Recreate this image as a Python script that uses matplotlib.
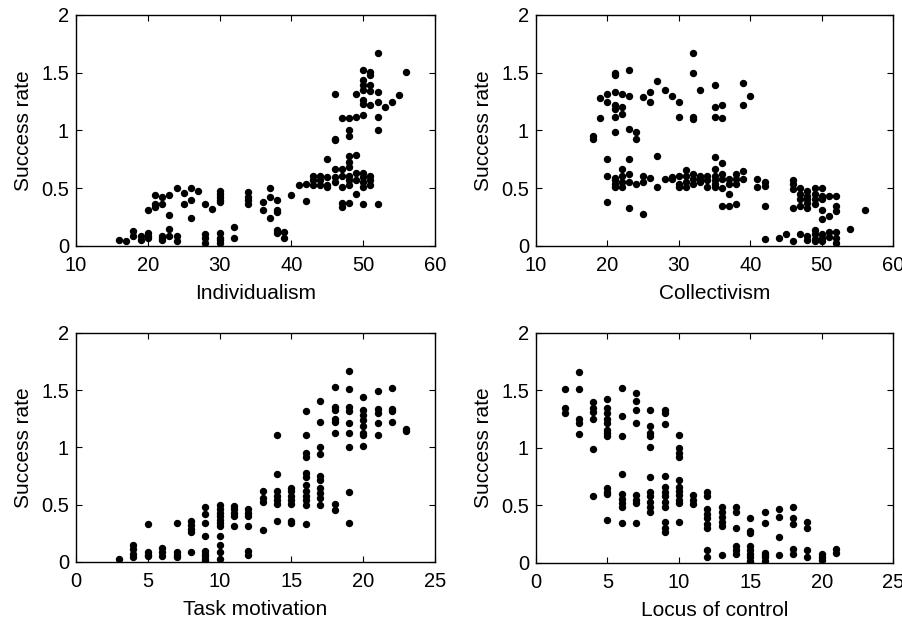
import numpy as np
import matplotlib.pyplot as plt

plt.rcParams['font.family'] = ['Liberation Sans', 'DejaVu Sans']

# Individualism vs success rate
indiv_x = [16, 17, 18, 18, 19, 19, 20, 20, 20, 20, 21, 21, 21,
           22, 22, 22, 22, 22, 23, 23, 23, 23, 24, 24, 24, 25, 25,
           26, 26, 26, 27, 28, 28, 28, 28, 29,
           30, 30, 30, 30, 30, 30, 30, 30, 30, 32, 32,
           34, 34, 34, 34, 36, 36, 37, 37, 37, 38, 38, 38, 38, 38, 39, 39,
           40, 41, 42, 42, 43, 43, 43, 44, 44, 44, 45, 45, 45, 45,
           46, 46, 46, 46, 46, 46, 47, 47, 47, 47, 47, 47,
           48, 48, 48, 48, 48, 48, 48, 48, 48, 48,
           49, 49, 49, 49, 49, 49,
           50, 50, 50, 50, 50, 50, 50, 50, 50, 50, 50, 50,
           51, 51, 51, 51, 51, 51, 51, 51,
           52, 52, 52, 52, 52, 52, 53, 54, 55, 56]
indiv_y = [0.05, 0.04, 0.13, 0.09, 0.09, 0.05, 0.11, 0.09, 0.07, 0.31, 0.44, 0.36, 0.34,
           0.42, 0.36, 0.09, 0.07, 0.05, 0.44, 0.27, 0.15, 0.09, 0.50, 0.09, 0.04, 0.46, 0.36,
           0.50, 0.40, 0.24, 0.48, 0.36, 0.10, 0.07, 0.03, 0.32,
           0.48, 0.45, 0.42, 0.40, 0.38, 0.11, 0.07, 0.05, 0.03, 0.16, 0.07,
           0.47, 0.42, 0.40, 0.36, 0.38, 0.31, 0.50, 0.42, 0.24, 0.40, 0.31, 0.29, 0.14, 0.11, 0.12, 0.07,
           0.44, 0.53, 0.39, 0.54, 0.61, 0.57, 0.53, 0.61, 0.57, 0.53, 0.75, 0.60, 0.53, 0.51,
           1.32, 0.93, 0.92, 0.67, 0.60, 0.55, 1.11, 0.67, 0.61, 0.51, 0.37, 0.34,
           1.11, 1.00, 0.95, 0.78, 0.73, 0.68, 0.61, 0.57, 0.53, 0.37,
           1.32, 1.12, 0.79, 0.63, 0.57, 0.45,
           1.52, 1.44, 1.39, 1.35, 1.26, 1.23, 1.13, 0.63, 0.60, 0.55, 0.51, 0.36,
           1.51, 1.48, 1.39, 1.34, 1.22, 0.61, 0.57, 0.53,
           1.67, 1.33, 1.25, 1.12, 1.00, 0.36, 1.20, 1.25, 1.31, 1.51]

# Collectivism vs success rate
coll_x = [18, 18, 19, 19, 20, 20, 20, 20, 20,
          21, 21, 21, 21, 21, 21, 21, 21, 21, 21, 21,
          22, 22, 22, 22, 22, 22, 22, 23, 23, 23, 23, 23, 23, 23,
          24, 24, 24, 25, 25, 25, 25, 26, 26, 26, 27, 27, 27, 28, 28,
          29, 29, 29, 30, 30, 30, 30, 30, 31, 31, 31, 31,
          32, 32, 32, 32, 32, 32, 32, 33, 33, 33, 33, 34, 34, 34,
          35, 35, 35, 35, 35, 35, 35, 35, 35, 36, 36, 36, 36, 36, 36, 36,
          37, 37, 37, 37, 38, 38, 38, 38, 39, 39, 39, 39, 40, 41, 41,
          42, 42, 42, 42, 44, 45, 46, 46, 46, 46, 46, 47, 47, 47, 47, 47,
          48, 48, 48, 48, 48, 48, 48, 49, 49, 49, 49, 49, 49, 49, 49,
          50, 50, 50, 50, 50, 50, 50, 50, 51, 51, 51, 51,
          52, 52, 52, 52, 52, 52, 54, 56]
coll_y = [0.95, 0.93, 1.28, 1.11, 1.32, 1.25, 0.75, 0.61, 0.38,
          1.50, 1.48, 1.33, 1.22, 1.19, 1.12, 0.99, 0.59, 0.57, 0.54, 0.51,
          1.32, 1.20, 1.14, 0.67, 0.61, 0.55, 0.51, 1.52, 1.30, 1.01, 0.75, 0.62, 0.55, 0.33,
          0.99, 0.93, 0.54, 1.29, 0.61, 0.55, 0.28, 1.33, 1.25, 0.59, 1.43, 0.78, 0.51, 1.35, 0.58,
          1.30, 0.60, 0.58, 1.25, 1.12, 0.61, 0.54, 0.51, 0.66, 0.61, 0.55, 0.51,
          1.67, 1.50, 1.12, 1.10, 0.62, 0.58, 0.54, 1.35, 0.61, 0.58, 0.55, 0.61, 0.57, 0.51,
          1.39, 1.20, 1.12, 0.77, 0.67, 0.61, 0.57, 0.54, 0.51, 1.22, 1.11, 0.72, 0.62, 0.58, 0.50, 0.35,
          0.58, 0.54, 0.45, 0.35, 0.62, 0.58, 0.54, 0.36, 1.41, 1.22, 0.65, 0.58, 1.30, 0.58, 0.51,
          0.55, 0.52, 0.35, 0.06, 0.07, 0.10, 0.57, 0.54, 0.49, 0.33, 0.04, 0.50, 0.45, 0.41, 0.35, 0.10,
          0.48, 0.43, 0.41, 0.37, 0.33, 0.09, 0.05, 0.50, 0.45, 0.41, 0.36, 0.14, 0.10, 0.06, 0.04,
          0.50, 0.43, 0.41, 0.31, 0.23, 0.10, 0.07, 0.04, 0.43, 0.26, 0.12, 0.08,
          0.43, 0.35, 0.30, 0.12, 0.07, 0.03, 0.15, 0.31]

# Task motivation vs success rate
task_x = [3, 4, 4, 4, 4, 5, 5, 5, 5, 6, 6, 6, 7, 7, 7, 7,
          8, 8, 8, 8, 8, 9, 9, 9, 9, 9, 9, 9, 9, 9,
          10, 10, 10, 10, 10, 10, 10, 10, 10, 10, 10,
          11, 11, 11, 11, 11, 12, 12, 12, 12, 12, 12, 13, 13, 13, 13,
          14, 14, 14, 14, 14, 14, 14, 15, 15, 15, 15, 15, 15, 15,
          16, 16, 16, 16, 16, 16, 16, 16, 16, 16, 16, 16,
          17, 17, 17, 17, 17, 17, 17, 17, 17, 17,
          18, 18, 18, 18, 18, 18, 18, 18,
          19, 19, 19, 19, 19, 19, 19, 19, 19,
          20, 20, 20, 20, 20, 20, 20, 20, 21, 21, 21, 21, 21,
          22, 22, 22, 22, 23, 23]
task_y = [0.03, 0.15, 0.11, 0.07, 0.04, 0.33, 0.09, 0.06, 0.05, 0.12, 0.09, 0.05, 0.34, 0.09, 0.06, 0.04,
          0.36, 0.32, 0.29, 0.26, 0.09, 0.48, 0.42, 0.34, 0.23, 0.10, 0.07, 0.05, 0.03, 0.01,
          0.50, 0.46, 0.43, 0.40, 0.37, 0.34, 0.31, 0.23, 0.15, 0.09, 0.03,
          0.49, 0.46, 0.43, 0.40, 0.31, 0.46, 0.43, 0.40, 0.31, 0.10, 0.06, 0.62, 0.56, 0.52, 0.28,
          1.11, 0.77, 0.62, 0.58, 0.54, 0.51, 0.36, 0.65, 0.62, 0.58, 0.54, 0.51, 0.36, 0.34,
          1.32, 1.11, 0.95, 0.92, 0.78, 0.74, 0.67, 0.62, 0.58, 0.54, 0.50, 0.33,
          1.41, 1.22, 1.00, 0.94, 0.75, 0.72, 0.65, 0.60, 0.56, 0.50,
          1.53, 1.35, 1.33, 1.25, 1.22, 1.13, 0.51, 0.45,
          1.67, 1.51, 1.35, 1.32, 1.21, 1.13, 1.00, 0.61, 0.34,
          1.44, 1.33, 1.28, 1.24, 1.19, 1.13, 1.11, 1.01, 1.49, 1.34, 1.30, 1.21, 1.11,
          1.52, 1.34, 1.32, 1.22, 1.16, 1.14]

# Locus of control vs success rate
locus_x = [2, 2, 2, 3, 3, 3, 3, 3, 4, 4, 4, 4, 4, 4,
           5, 5, 5, 5, 5, 5, 5, 5, 5, 5, 5, 5,
           6, 6, 6, 6, 6, 6, 6, 6, 6, 7, 7, 7, 7, 7, 7, 7, 7,
           8, 8, 8, 8, 8, 8, 8, 8, 8, 8, 8,
           9, 9, 9, 9, 9, 9, 9, 9, 9, 9, 9, 9,
           10, 10, 10, 10, 10, 10, 10, 10, 10, 10, 10, 11, 11, 11,
           12, 12, 12, 12, 12, 12, 12, 12, 12, 13, 13, 13, 13, 13, 13,
           14, 14, 14, 14, 14, 14, 15, 15, 15, 15, 15, 15, 15, 15, 15,
           16, 16, 16, 16, 16, 16, 17, 17, 17, 17, 18, 18, 18, 18, 18,
           19, 19, 19, 19, 20, 20, 20, 21, 21]
locus_y = [1.51, 1.35, 1.30, 1.66, 1.51, 1.25, 1.22, 1.12, 1.40, 1.35, 1.31, 1.25, 0.99, 0.58,
           1.43, 1.35, 1.30, 1.25, 1.22, 1.16, 1.13, 1.10, 0.65, 0.62, 0.60, 0.37,
           1.52, 1.28, 1.10, 0.77, 0.60, 0.56, 0.52, 0.49, 0.35, 1.48, 1.41, 1.33, 1.22, 0.59, 0.55, 0.52, 0.35,
           1.33, 1.19, 1.13, 1.10, 1.01, 0.75, 0.62, 0.58, 0.53, 0.49, 0.44,
           1.33, 1.30, 1.21, 0.76, 0.66, 0.62, 0.58, 0.53, 0.49, 0.36, 0.30, 0.27,
           1.11, 1.00, 0.96, 0.92, 0.72, 0.66, 0.63, 0.59, 0.55, 0.52, 0.36, 0.59, 0.55, 0.51,
           0.62, 0.58, 0.47, 0.43, 0.39, 0.34, 0.30, 0.11, 0.05, 0.49, 0.44, 0.40, 0.36, 0.32, 0.07,
           0.49, 0.44, 0.30, 0.15, 0.11, 0.08, 0.39, 0.28, 0.26, 0.15, 0.11, 0.08, 0.05, 0.02, 0.01,
           0.44, 0.35, 0.09, 0.07, 0.05, 0.02, 0.47, 0.40, 0.23, 0.07, 0.49, 0.39, 0.34, 0.12, 0.08,
           0.36, 0.30, 0.11, 0.05, 0.08, 0.05, 0.03, 0.12, 0.09]

panels = [
    (indiv_x, indiv_y, 'Individualism', [10, 60], [10, 20, 30, 40, 50, 60]),
    (coll_x, coll_y, 'Collectivism', [10, 60], [10, 20, 30, 40, 50, 60]),
    (task_x, task_y, 'Task motivation', [0, 25], [0, 5, 10, 15, 20, 25]),
    (locus_x, locus_y, 'Locus of control', [0, 25], [0, 5, 10, 15, 20, 25]),
]

fig = plt.figure(figsize=(9.03, 6.27), dpi=100)
rects = [[0.0842, 0.6077, 0.3976, 0.3684],
         [0.5936, 0.6077, 0.3954, 0.3684],
         [0.0842, 0.1037, 0.3976, 0.3652],
         [0.5936, 0.1021, 0.3954, 0.3668]]

for (x, y, name, xlim, xt), r in zip(panels, rects):
    ax = fig.add_axes(r)
    ax.plot(x, y, 'ko', markersize=4.3, linestyle='none')
    ax.set_xlim(xlim)
    ax.set_ylim(0, 2)
    ax.set_xticks(xt)
    ax.set_yticks([0, 0.5, 1, 1.5, 2])
    ax.set_yticklabels(['0', '0.5', '1', '1.5', '2'])
    ax.tick_params(direction='in', top=True, right=True, labelsize=14.5, length=4)
    ax.tick_params(axis='x', pad=7.5)
    ax.tick_params(axis='y', pad=5)
    ax.set_xlabel(name, fontsize=15, labelpad=6)
    ax.set_ylabel('Success rate', fontsize=15, labelpad=6)
    for s in ax.spines.values():
        s.set_linewidth(1.0)

fig.savefig('out.png', dpi=100)
